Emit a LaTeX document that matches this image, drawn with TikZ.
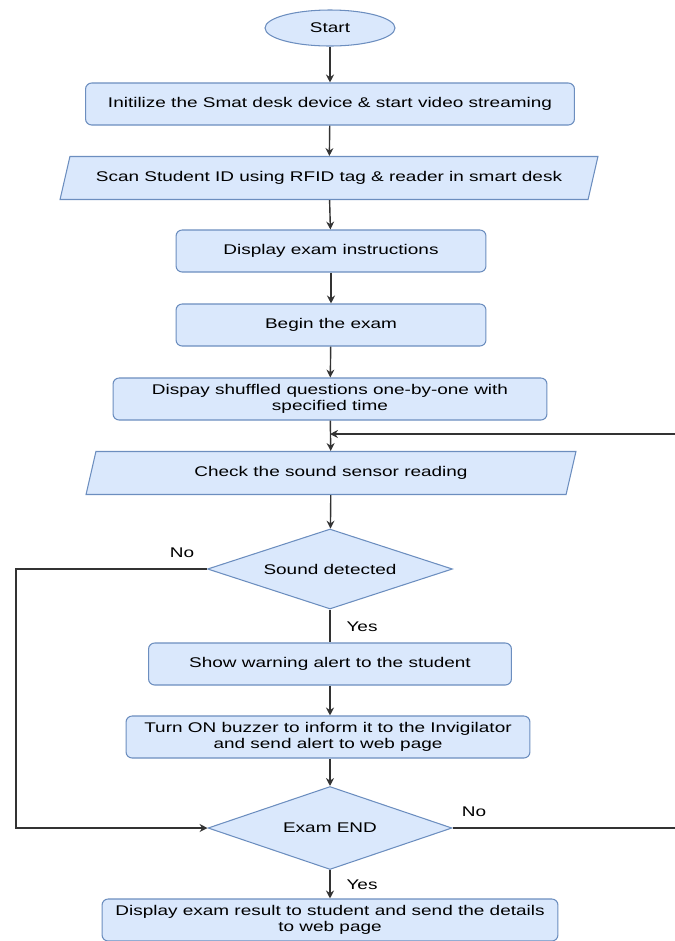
\documentclass[tikz,border=0pt]{standalone}
\usepackage{fontspec}
\setmainfont{Liberation Sans}[FakeStretch=1.35]
\usetikzlibrary{shapes.geometric,arrows.meta}
\definecolor{boxfill}{HTML}{DAE8FC}
\definecolor{boxline}{HTML}{6C8EBF}
\tikzset{base/.style={draw=boxline,fill=boxfill,line width=0.6pt,
           font=\fontsize{8}{9.2}\selectfont,align=center,inner sep=0pt},
         proc/.style={base,rectangle,rounded corners=3.5pt,minimum height=0.84cm},
         io/.style={base,trapezium,trapezium left angle=53,
           trapezium right angle=127,trapezium stretches body,minimum height=0.86cm},
         dec/.style={base,diamond,aspect=3},
         term/.style={base,ellipse,minimum width=2.6cm,minimum height=0.72cm},
         lbl/.style={font=\fontsize{8}{9.2}\selectfont},
         conn/.style={draw=black!80,line width=0.8pt},
         arr/.style={conn,-{Stealth[length=4.5pt,width=4.5pt]}}}

\begin{document}
\begin{tikzpicture}[x=0.02cm,y=-0.02cm]
    \useasboundingbox (0,0) rectangle (675,941);

    \node[term] (start) at (330,28) {Start};
    \node[proc,minimum width=9.78cm] (init) at (330,104)
    {Initilize the Smat desk device \& start video streaming};
    \node[io,minimum width=10.76cm] (scan) at (329,178)
    {Scan Student ID using RFID tag \& reader in smart desk};
    \node[proc,minimum width=6.2cm] (instr) at (331,251) {Display exam instructions};
    \node[proc,minimum width=6.2cm] (begin) at (331,325) {Begin the exam};
    \node[proc,minimum width=8.68cm] (shuf) at (330,399)
    {Dispay shuffled questions one-by-one with\\specified time};
    \node[io,minimum width=9.8cm] (sens) at (331,473) {Check the sound sensor reading};

    \node[dec,minimum width=4.9cm,minimum height=1.6cm] (sound) at (330,569) {Sound detected};
    \node[proc,minimum width=7.26cm] (warn) at (330,664) {Show warning alert to the student};
    \node[proc,minimum width=8.08cm] (buzz) at (328,737)
    {Turn ON buzzer to inform it to the Invigilator\\and send alert to web page};
    \node[dec,minimum width=4.88cm,minimum height=1.66cm] (exend) at (330,828) {Exam END};
    \node[proc,minimum width=9.12cm] (res) at (330,920)
    {Display exam result to student and send the details\\to web page};

    \node[lbl] (no1) at (182,553) {No}; \node[lbl] (yes1) at (362,627) {Yes};
    \node[lbl] (no2) at (474,812) {No}; \node[lbl] (yes2) at (362,885) {Yes};

    \coordinate (lt) at (16,569); \coordinate (lb) at (16,828);
    \coordinate (rb) at (677,828); \coordinate (rt) at (677,434);

    \draw[arr] (start) -- (init); \draw[arr] (init) -- (scan);
    \draw[arr] (scan) -- (instr); \draw[arr] (instr) -- (begin);
    \draw[arr] (begin) -- (shuf); \draw[arr] (shuf) -- (sens);
    \draw[arr] (sens) -- (sound); \draw[conn] (sound) -- (warn);
    \draw[arr] (warn) -- (buzz.north -| warn.south); \draw[arr] (buzz.south -| exend.north) -- (exend);
    \draw[arr] (exend) -- (res);

    \draw[arr] (sound.west) -- (lt) -- (lb) -- (exend.west);
    \draw[arr] (exend.east) -- (rb) -- (rt) -- (shuf.south |- rt);
\end{tikzpicture}
\end{document}
